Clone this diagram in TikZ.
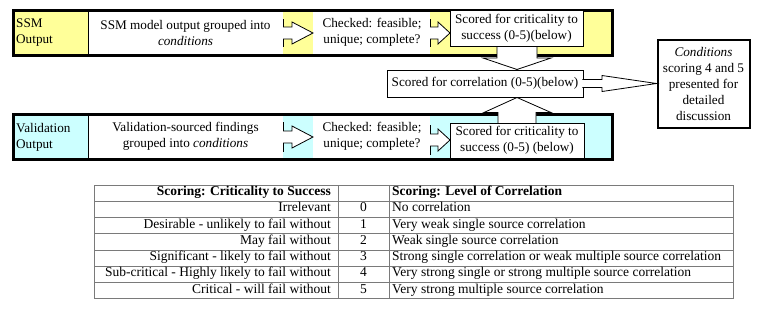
\documentclass[tikz,border=0pt]{standalone}
\usepackage{fontspec}
\setmainfont{Liberation Serif}
\definecolor{ssmyellow}{HTML}{FFFF99}
\definecolor{valcyan}{HTML}{CCFFFF}
\definecolor{tabline}{HTML}{7A7A7A}
\begin{document}
\begin{tikzpicture}[x=1pt,y=-1pt,
  txt/.style={font=\fontsize{13.2}{16}\selectfont, inner sep=0pt, align=center},
  ltxt/.style={font=\fontsize{13.2}{16}\selectfont, inner sep=0pt, align=left},
  band/.style={draw=black, line width=3pt},
  thin/.style={draw=black, line width=0.8pt},
  wbox/.style={draw=black, line width=0.8pt, fill=white},
  barrow/.style={draw=black, line width=0.8pt, fill=white, line join=miter},
  tline/.style={draw=tabline, line width=0.8pt},
  ttxt/.style={font=\fontsize{13.5}{15}\selectfont, inner sep=0pt},
]
\useasboundingbox (0,0) rectangle (769,311);

% ---------------- top band (SSM) ----------------
\path[band, fill=ssmyellow] (13.5,10.5) rectangle (612.5,55.5);
\fill[white] (88,12) rectangle (283,54);
\fill[white] (313,12) rectangle (430,54);
\draw[thin] (88,12) -- (88,54);
\node[ltxt, anchor=west] (ssmlab) at (16,33) {SSM\\Output};
\node[txt] (ssmgroup) at (185.5,32.5) {SSM model output grouped into\\\textit{conditions}};
\node[txt] (ssmcheck) at (372,32.5) {Checked: feasible;\\unique; complete?};
% block arrows in band
\path[barrow] (283,27) -- (292,27) -- (292,22) -- (313,33) -- (292,44) -- (292,39) -- (283,39);
\draw[thin] (283,19) -- (283,27) (283,39) -- (283,47);
\path[barrow] (430,27) -- (438,27) -- (438,22) -- (450,33) -- (438,44) -- (438,39) -- (430,39);
\draw[thin] (430,19) -- (430,27) (430,39) -- (430,47);
% down arrow to correlation
\path[barrow] (497,44) -- (497,58) -- (483,58) -- (517,69.5) -- (551,58) -- (537,58) -- (537,44);
\node[wbox, txt, minimum width=133pt, minimum height=36pt] (ssmscore) at (516.5,28)
  {Scored for criticality to\\success (0-5)(below)};

% ---------------- bottom band (Validation) ----------------
\path[band, fill=valcyan] (13.5,114.5) rectangle (612.5,159.5);
\fill[white] (88,116) rectangle (283,158);
\fill[white] (313,116) rectangle (430,158);
\draw[thin] (88,116) -- (88,158);
\node[ltxt, anchor=west] (vallab) at (16,137) {Validation\\Output};
\node[txt] (valgroup) at (185.5,136.5) {Validation-sourced findings\\grouped into \textit{conditions}};
\node[txt] (valcheck) at (372,136.5) {Checked: feasible;\\unique; complete?};
\path[barrow] (283,131) -- (292,131) -- (292,126) -- (313,137) -- (292,148) -- (292,143) -- (283,143);
\draw[thin] (283,122) -- (283,131) (283,143) -- (283,152);
\path[barrow] (430,134) -- (438,134) -- (438,129) -- (450,140) -- (438,151) -- (438,146) -- (430,146);
\draw[thin] (430,125) -- (430,134) (430,146) -- (430,155);
% up arrow to correlation
\path[barrow] (498,124) -- (498,112.5) -- (484,112.5) -- (517,97.5) -- (551,112.5) -- (536,112.5) -- (536,124);
\node[wbox, txt, minimum width=134pt, minimum height=35pt] (valscore) at (517,140.5)
  {Scored for criticality to\\success (0-5) (below)};

% ---------------- correlation and conditions ----------------
\node[wbox, txt, minimum width=196pt, minimum height=27pt] (corr) at (485,83.5)
  {Scored for correlation (0-5)(below)};
\node[draw=black, line width=2pt, fill=white, txt, minimum width=92pt, minimum height=88pt] (cond) at (703.5,83.5)
  {\textit{Conditions}\\scoring 4 and 5\\presented for\\detailed\\discussion};
\path[barrow] (582.4,79.5) -- (602,79.5) -- (602,75.5) -- (cond.west)
  -- (602,91.5) -- (602,87.5) -- (582.4,87.5);

% ---------------- table ----------------
\draw[tline] (94,185) rectangle (733,298.5);
\foreach \yy in {201.3,217.5,233.8,250,266.3,282.5} \draw[tline] (94,\yy) -- (733,\yy);
\draw[tline] (338,185) -- (338,298.5) (389,185) -- (389,298.5);
\node[ttxt, anchor=mid east] (h1) at (331,193.5) {\textbf{Scoring: Criticality to Success}};
\node[ttxt, anchor=mid west] (h3) at (392,193.5) {\textbf{Scoring: Level of Correlation}};
\foreach \yy/\la/\nb/\lc [count=\i] in {
  209.7/Irrelevant/0/No correlation,
  225.9/Desirable - unlikely to fail without/1/Very weak single source correlation,
  242.2/May fail without/2/Weak single source correlation,
  258.4/Significant - likely to fail without/3/Strong single correlation or weak multiple source correlation,
  274.7/Sub-critical - Highly likely to fail without/4/Very strong single or strong multiple source correlation,
  290.9/Critical - will fail without/5/Very strong multiple source correlation} {
  \node[ttxt, anchor=mid east] (ra\i) at (331,\yy) {\la};
  \node[ttxt, anchor=mid] (rb\i) at (363.5,\yy) {\nb};
  \node[ttxt, anchor=mid west] (rc\i) at (392,\yy) {\lc};
}
\end{tikzpicture}
\end{document}
